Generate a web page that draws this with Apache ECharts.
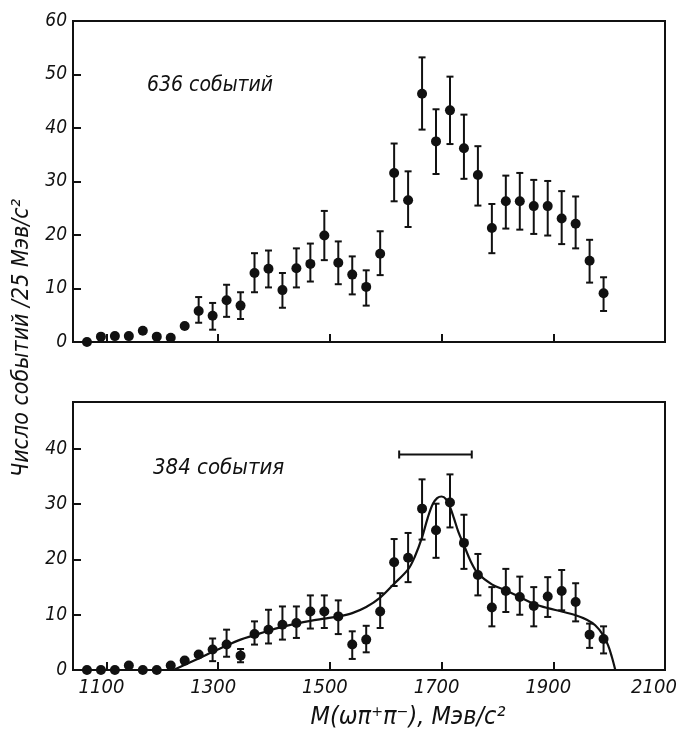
<!DOCTYPE html>
<html>
<head>
<meta charset="utf-8">
<script src="https://cdn.jsdelivr.net/npm/echarts@6/dist/echarts.min.js"></script>
<style>
  html, body { margin: 0; padding: 0; background: #fff; }
  #chart { width: 679px; height: 732px; }
</style>
</head>
<body>
<div id="chart"></div>
<script>
// центры бинов, МэВ
const massBins = [1065, 1090, 1115, 1140, 1165, 1190, 1215, 1240, 1265, 1290,
  1315, 1340, 1365, 1390, 1415, 1440, 1465, 1490, 1515, 1540,
  1565, 1590, 1615, 1640, 1665, 1690, 1715, 1740, 1765, 1790,
  1815, 1840, 1865, 1890, 1915, 1940, 1965, 1990]

// верхняя панель: 636 событий
const topCounts = [0, 1.0, 1.1, 1.1, 2.1, 1.0, 0.8, 3.0, 5.8, 4.9,
  7.8, 6.8, 12.9, 13.7, 9.7, 13.8, 14.6, 19.9, 14.8, 12.6,
  10.3, 16.5, 31.6, 26.5, 46.4, 37.5, 43.3, 36.2, 31.2, 21.3,
  26.3, 26.3, 25.4, 25.4, 23.1, 22.1, 15.2, 9.1]
const topErrLow = [null, null, null, null, null, null, null, null, 3.6, 2.3,
  4.7, 4.3, 9.3, 10.2, 6.4, 10.2, 11.3, 15.3, 10.8, 8.9,
  6.8, 12.5, 26.3, 21.5, 39.7, 31.4, 37.0, 30.5, 25.5, 16.6,
  21.2, 21.0, 20.2, 19.9, 18.3, 17.5, 11.1, 5.8]
const topErrHigh = [null, null, null, null, null, null, null, null, 8.4, 7.3,
  10.7, 9.3, 16.6, 17.1, 12.9, 17.5, 18.4, 24.5, 18.8, 16.0,
  13.4, 20.7, 37.1, 31.9, 53.2, 43.5, 49.6, 42.5, 36.6, 25.8,
  31.1, 31.6, 30.3, 30.1, 28.2, 27.2, 19.1, 12.1]

// нижняя панель: 384 события
const bottomCounts = [0, 0, 0, 0.8, 0, 0, 0.8, 1.7, 2.8, 3.7,
  4.6, 2.6, 6.5, 7.3, 8.2, 8.5, 10.6, 10.6, 9.7, 4.6,
  5.5, 10.6, 19.5, 20.3, 29.2, 25.3, 30.3, 23.0, 17.2, 11.3,
  14.3, 13.2, 11.6, 13.3, 14.3, 12.3, 6.4, 5.6]
const bottomErrLow = [null, null, null, null, null, null, null, null, null, 1.6,
  2.4, 1.4, 4.6, 4.8, 5.5, 5.8, 7.5, 7.6, 6.5, 2.0,
  3.2, 7.6, 15.2, 15.9, 23.6, 20.3, 25.8, 18.3, 13.5, 7.9,
  10.5, 10.0, 7.9, 9.6, 10.8, 8.8, 4.0, 3.0]
const bottomErrHigh = [null, null, null, null, null, null, null, null, null, 5.7,
  7.3, 3.8, 8.8, 10.9, 11.5, 11.5, 13.5, 13.5, 12.6, 7.0,
  8.0, 13.9, 23.7, 24.8, 34.5, 30.1, 35.4, 28.1, 21.0, 15.0,
  18.3, 16.9, 15.0, 16.8, 18.1, 15.7, 8.4, 7.9]

// подгоночная кривая
const fitMass = [1220, 1250, 1280, 1310, 1340, 1365, 1390, 1415, 1440, 1465,
  1490, 1515, 1540, 1565, 1590, 1615, 1640, 1652,
  1665, 1675, 1684, 1692, 1700, 1708, 1715, 1722, 1730, 1740,
  1752, 1765, 1790, 1815, 1840, 1865, 1890, 1915, 1940,
  1960, 1975, 1988, 1998, 2005, 2011]
const fitCounts = [0, 1.4, 2.8, 4.2, 5.5, 6.3, 7.1, 7.8, 8.4, 8.9,
  9.3, 9.7, 10.3, 11.4, 13.1, 15.6, 18.2, 20.5,
  24.0, 27.5, 30.0, 31.1, 31.4, 30.9, 29.5, 27.5, 25.0, 22.6,
  19.7, 17.5, 15.5, 14.4, 13.2, 12.0, 11.2, 10.6, 9.9,
  9.1, 8.1, 6.5, 4.5, 2.3, 0]

// ширина резонанса (отрезок над пиком)
const widthBar = [1624, 1754, 39]

const xTicks = [1100, 1300, 1500, 1700, 1900, 2100]
const yTicksBottom = [0, 10, 20, 30, 40]

const FONT = "'DejaVu Sans Condensed', 'Liberation Sans Narrow', 'Liberation Sans', sans-serif"
const INK = '#111'

function errData (lo, hi) {
  const out = []
  massBins.forEach((m, i) => {
    if (lo[i] !== null && hi[i] !== null) out.push([m, lo[i], hi[i]])
  })
  return out
}

function renderErr (params, api) {
  const x = api.value(0)
  const p1 = api.coord([x, api.value(1)])
  const p2 = api.coord([x, api.value(2)])
  const w = 3.5
  const st = { stroke: INK, lineWidth: 2 }
  return {
    type: 'group',
    children: [
      { type: 'line', shape: { x1: p1[0], y1: p1[1], x2: p2[0], y2: p2[1] }, style: st },
      { type: 'line', shape: { x1: p1[0] - w, y1: p1[1], x2: p1[0] + w, y2: p1[1] }, style: st },
      { type: 'line', shape: { x1: p2[0] - w, y1: p2[1], x2: p2[0] + w, y2: p2[1] }, style: st }
    ]
  }
}

function renderWidth (params, api) {
  const a = api.coord([api.value(0), api.value(2)])
  const b = api.coord([api.value(1), api.value(2)])
  const h = 4
  const st = { stroke: INK, lineWidth: 2 }
  return {
    type: 'group',
    children: [
      { type: 'line', shape: { x1: a[0], y1: a[1], x2: b[0], y2: b[1] }, style: st },
      { type: 'line', shape: { x1: a[0], y1: a[1] - h, x2: a[0], y2: a[1] + h }, style: st },
      { type: 'line', shape: { x1: b[0], y1: b[1] - h, x2: b[0], y2: b[1] + h }, style: st }
    ]
  }
}

const labelStyle = {
  color: INK,
  fontFamily: FONT,
  fontStyle: 'italic',
  fontSize: 20,
  formatter: (v) => String(v)
}

function xAxisCfg (gridIndex, withLabels) {
  return {
    type: 'value',
    gridIndex: gridIndex,
    min: 1040,
    max: 2100,
    axisLine: { lineStyle: { color: INK, width: 2 } },
    axisTick: { inside: true, length: 8, customValues: xTicks, lineStyle: { color: INK, width: 2 } },
    axisLabel: Object.assign({}, labelStyle, {
      show: withLabels,
      margin: 8,
      customValues: xTicks,
      // крайнюю подпись сдвигаем влево, чтобы не обрезалась
      formatter: (v) => (v === 2100 ? '{e|' + v + '}' : '{n|' + v + '}'),
      rich: {
        n: { fontFamily: FONT, fontStyle: 'italic', fontSize: 20, color: INK, padding: [0, 10, 0, 0] },
        e: { fontFamily: FONT, fontStyle: 'italic', fontSize: 20, color: INK, padding: [0, 22, 0, 0] }
      }
    }),
    splitLine: { show: false }
  }
}

const chart = echarts.init(document.getElementById('chart'))

const option = {
  backgroundColor: '#fff',
  animation: false,
  grid: [
    { left: 73, top: 21, width: 592, height: 321, show: true, borderColor: INK, borderWidth: 2, outerBoundsMode: 'none', containLabel: false },
    { left: 73, top: 402, width: 592, height: 268, show: true, borderColor: INK, borderWidth: 2, outerBoundsMode: 'none', containLabel: false }
  ],
  xAxis: [xAxisCfg(0, false), xAxisCfg(1, true)],
  yAxis: [
    {
      type: 'value',
      gridIndex: 0,
      min: 0,
      max: 60,
      interval: 10,
      axisLine: { show: true, lineStyle: { color: INK, width: 2 } },
      axisTick: { inside: true, length: 8, lineStyle: { color: INK, width: 2 } },
      axisLabel: Object.assign({ margin: 6 }, labelStyle, { fontSize: 19 }),
      splitLine: { show: false }
    },
    {
      type: 'value',
      gridIndex: 1,
      min: 0,
      max: 48.5,
      axisLine: { show: true, lineStyle: { color: INK, width: 2 } },
      axisTick: { inside: true, length: 8, customValues: yTicksBottom, lineStyle: { color: INK, width: 2 } },
      axisLabel: Object.assign({ margin: 6, customValues: yTicksBottom }, labelStyle, { fontSize: 19 }),
      splitLine: { show: false }
    }
  ],
  graphic: [
    {
      type: 'text',
      left: 147,
      top: 75,
      style: { text: '636 событий', fill: INK, font: 'italic 21px ' + FONT }
    },
    {
      type: 'text',
      left: 153,
      top: 457,
      style: { text: '384 события', fill: INK, font: 'italic 22px ' + FONT }
    },
    {
      type: 'text',
      x: 22,
      y: 338,
      rotation: Math.PI / 2,
      style: {
        text: 'Число событий /25 Мэв/с²',
        fill: INK,
        font: 'italic 23px ' + FONT,
        align: 'center',
        verticalAlign: 'middle'
      }
    },
    {
      type: 'text',
      x: 408,
      y: 717,
      style: {
        text: 'M(ωπ⁺π⁻), Мэв/с²',
        fill: INK,
        font: 'italic 25px ' + FONT,
        align: 'center',
        verticalAlign: 'middle'
      }
    }
  ],
  series: [
    {
      type: 'custom',
      xAxisIndex: 0,
      yAxisIndex: 0,
      renderItem: renderErr,
      data: errData(topErrLow, topErrHigh),
      z: 2
    },
    {
      type: 'scatter',
      xAxisIndex: 0,
      yAxisIndex: 0,
      symbolSize: 10,
      itemStyle: { color: INK, opacity: 1 },
      data: massBins.map((m, i) => [m, topCounts[i]]),
      z: 3
    },
    {
      type: 'custom',
      xAxisIndex: 1,
      yAxisIndex: 1,
      renderItem: renderErr,
      data: errData(bottomErrLow, bottomErrHigh),
      z: 2
    },
    {
      type: 'scatter',
      xAxisIndex: 1,
      yAxisIndex: 1,
      symbolSize: 10,
      itemStyle: { color: INK, opacity: 1 },
      data: massBins.map((m, i) => [m, bottomCounts[i]]),
      z: 3
    },
    {
      type: 'line',
      xAxisIndex: 1,
      yAxisIndex: 1,
      smooth: 0.35,
      showSymbol: false,
      lineStyle: { color: INK, width: 2.2 },
      data: fitMass.map((m, i) => [m, fitCounts[i]]),
      z: 4
    },
    {
      type: 'custom',
      xAxisIndex: 1,
      yAxisIndex: 1,
      renderItem: renderWidth,
      data: [widthBar],
      z: 2
    }
  ]
}

chart.setOption(option)
</script>
</body>
</html>
